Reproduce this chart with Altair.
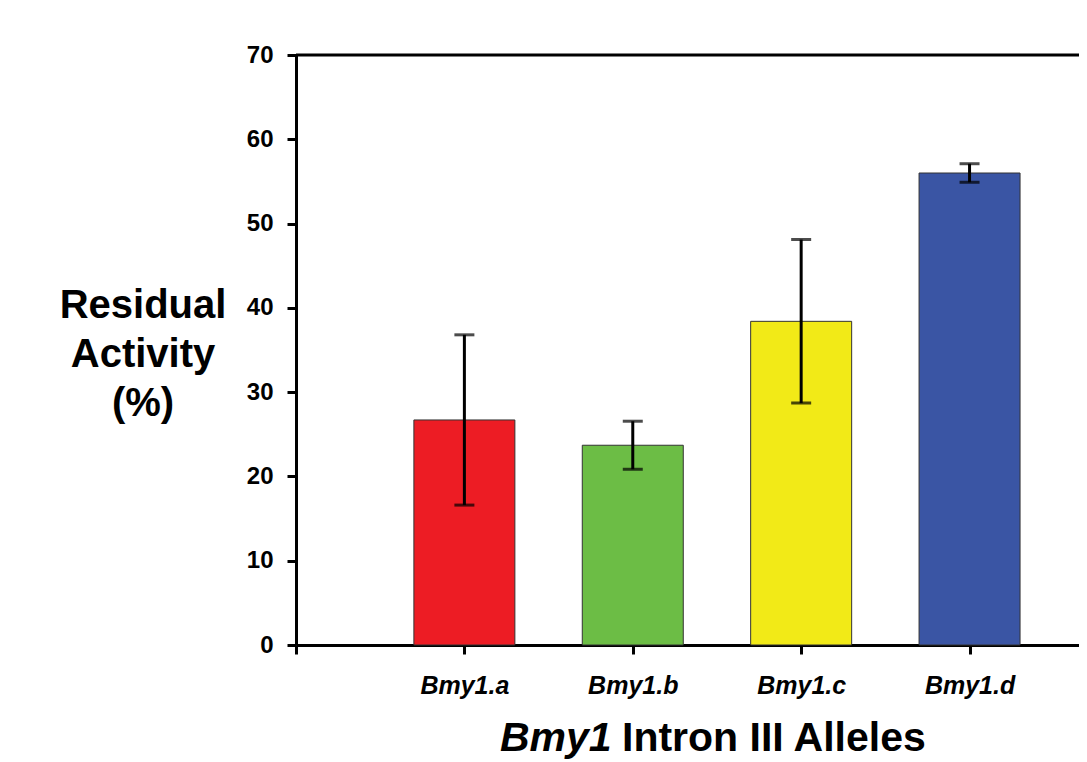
import json
import altair as alt
import pandas as pd

categories = ["Bmy1.a", "Bmy1.b", "Bmy1.c", "Bmy1.d"]
positions = [1, 2, 3, 4]
means = [26.7, 23.7, 38.4, 56.0]
errors = [10.1, 2.85, 9.7, 1.1]
colors = ["#ED1C24", "#6CBD45", "#F2EA17", "#3A55A4"]
y_ticks = [0, 10, 20, 30, 40, 50, 60, 70]
x_ticks = [0, 1, 2, 3, 4]
title_y_lines = ["Residual", "Activity", "(%)"]

FONT = "Liberation Sans, Arial, sans-serif"

df = pd.DataFrame({
    "cat": categories,
    "pos": positions,
    "mean": means,
    "lo": [m - e for m, e in zip(means, errors)],
    "hi": [m + e for m, e in zip(means, errors)],
})
one = pd.DataFrame({"k": [0]})

W, H = 783, 590

label_expr = "datum.value == 0 ? '' : " + json.dumps(categories) + "[datum.value - 1]"

x_enc = alt.X(
    "pos:Q",
    scale=alt.Scale(domain=[0, 4.65], nice=False, zero=True, padding=0),
    axis=alt.Axis(
        values=x_ticks, labelExpr=label_expr, title=None, grid=False,
        domainColor="black", domainWidth=3, tickColor="black", tickWidth=3,
        tickSize=9, labelFont=FONT, labelFontSize=25, labelFontWeight="bold",
        labelFontStyle="italic", labelColor="black", labelBaseline="alphabetic",
        labelPadding=39, labelFlush=False, labelOverlap=False,
    ),
)
y_scale = alt.Scale(domain=[0, 70], nice=False, padding=0)
y_axis = alt.Axis(
    values=y_ticks, title=None, grid=False, domainColor="black", domainWidth=3,
    tickColor="black", tickWidth=3, tickSize=9, labelFont=FONT, labelFontSize=24,
    labelFontWeight="bold", labelColor="black", labelPadding=14, labelFlush=False,
)

base = alt.Chart(df)

bars = base.mark_bar(size=101, stroke="#333333", strokeWidth=1).encode(
    x=x_enc,
    y=alt.Y("mean:Q", scale=y_scale, axis=y_axis),
    color=alt.Color("cat:N", scale=alt.Scale(domain=categories, range=colors), legend=None),
)
err = base.mark_rule(color="black", strokeWidth=3).encode(
    x="pos:Q", y="lo:Q", y2="hi:Q"
)
cap_lo = base.mark_tick(color="black", thickness=3, size=20, orient="horizontal").encode(
    x="pos:Q", y="lo:Q"
)
cap_hi = base.mark_tick(color="black", thickness=3, size=20, orient="horizontal").encode(
    x="pos:Q", y="hi:Q"
)
top_line = alt.Chart(one).mark_rule(color="black", strokeWidth=3).encode(y=alt.datum(70))

ytitle_layers = []
for i, line in enumerate(title_y_lines):
    ytitle_layers.append(
        alt.Chart(one).mark_text(
            text=line, font=FONT, fontSize=40, fontWeight="bold", color="black",
            align="center", baseline="alphabetic",
        ).encode(x=alt.value(-153), y=alt.value(263 + 49 * i))
    )

xt1 = alt.Chart(one).mark_text(
    text="Bmy1", font=FONT, fontSize=41, fontWeight="bold", fontStyle="italic",
    color="black", align="left", baseline="alphabetic",
).encode(x=alt.value(204), y=alt.value(696))
xt2 = alt.Chart(one).mark_text(
    text="Intron III Alleles", font=FONT, fontSize=41, fontWeight="bold",
    color="black", align="left", baseline="alphabetic",
).encode(x=alt.value(326), y=alt.value(696))

chart = alt.layer(bars, err, cap_lo, cap_hi, top_line, *ytitle_layers, xt1, xt2).properties(
    width=W, height=H,
    autosize=alt.AutoSizeParams(type="none"),
    padding={"left": 288, "top": 47, "right": 0, "bottom": 117},
).configure_view(stroke=None).configure(background="white")

chart.save("out.html", embed_options={"renderer": "svg", "actions": False})
